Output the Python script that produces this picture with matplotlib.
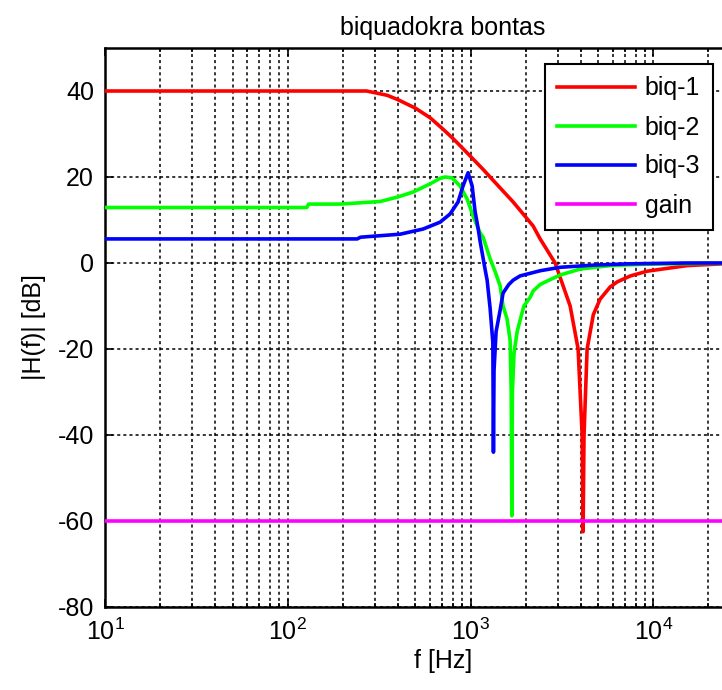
import matplotlib
matplotlib.use("Agg")
import matplotlib.pyplot as plt
from matplotlib.ticker import LogLocator, FixedLocator, NullFormatter

# ---- data ----
title = "biquadokra bontas"
xlabel = "f [Hz]"
ylabel = "|H(f)| [dB]"
labels = ["biq-1", "biq-2", "biq-3", "gain"]

f_biq1 = [10, 270, 300, 350, 400, 500, 600, 700, 800, 900, 1000, 1170, 1400, 1711,
          2202, 2405, 2904, 3509, 3880, 4083, 4131, 4180, 4345, 4700, 5120, 5800,
          6343, 7500, 9268, 15350, 23830, 50000]
db_biq1 = [40, 40, 39.6, 39.0, 38.0, 36.0, 33.8, 31.3, 29.0, 26.8, 24.8, 21.8, 18.2,
           14.2, 8.6, 5.6, 0, -10, -20, -40, -62.5, -40, -20, -12, -8.4, -5.6,
           -4.4, -3.0, -1.9, -0.6, -0.2, 0]

f_biq2 = [10, 127, 130, 193, 249, 320, 396, 485, 601, 682, 726, 793, 877, 958,
          1033, 1129, 1172, 1280, 1364, 1452, 1507, 1585, 1647, 1670, 1683, 1695,
          1730, 1799, 1868, 1960, 2119, 2202, 2405, 2627, 3092, 3981, 5808, 8805,
          18000, 50000]
db_biq2 = [12.9, 12.9, 13.7, 13.7, 14.0, 14.3, 15.3, 16.5, 18.4, 19.7, 20.0, 19.8,
           17.9, 14.9, 10.9, 7.0, 6.0, 1.0, -2.0, -5.3, -10.0, -13.0, -18.0, -30.0,
           -58.8, -30.0, -21.0, -16.0, -13.3, -10.0, -8.0, -6.5, -5.0, -4.2, -2.8,
           -1.4, -0.6, -0.3, -0.1, 0]

f_biq3 = [10, 240, 250, 412, 550, 682, 773, 855, 910, 970, 1021, 1059, 1101, 1129,
          1202, 1233, 1280, 1325, 1335, 1345, 1380, 1452, 1507, 1620, 1711, 1868,
          2405, 3092, 4691, 7194, 15000, 50000]
db_biq3 = [5.6, 5.6, 6.0, 6.7, 7.9, 9.5, 11.4, 14.2, 17.9, 21.0, 17.9, 12.0, 8.0,
           5.0, -1.5, -4.0, -10.5, -18.5, -44.0, -25.0, -16.0, -11.0, -7.0, -5.0,
           -4.0, -3.0, -1.8, -1.0, -0.5, -0.2, 0, 0]

f_gain = [10, 50000]
db_gain = [-60, -60]

series = [(f_biq1, db_biq1, "#ff0000"),
          (f_biq2, db_biq2, "#00ff00"),
          (f_biq3, db_biq3, "#0000ff"),
          (f_gain, db_gain, "#ff00ff")]

yticks = [-80, -60, -40, -20, 0, 20, 40]

# ---- style ----
plt.rcParams['font.family'] = ['Liberation Sans', 'DejaVu Sans']
plt.rcParams['mathtext.fontset'] = 'custom'
plt.rcParams['mathtext.rm'] = 'Liberation Sans'
plt.rcParams['mathtext.it'] = 'Liberation Sans:italic'
plt.rcParams['mathtext.default'] = 'regular'
plt.rcParams['axes.unicode_minus'] = False
FS = 18
LW = 2.6

fig = plt.figure(figsize=(7.22, 6.9), dpi=100)
ax = fig.add_axes([105 / 722, 83 / 690, (781 - 105) / 722, (607 - 48) / 690])

for (fx, dy, c), lab in zip(series, labels):
    ax.plot(fx, dy, color=c, lw=LW, label=lab, zorder=3, solid_joinstyle='round')

ax.set_xscale('log')
ax.set_xlim(10, 50000)
ax.set_ylim(-80, 50)
ax.yaxis.set_major_locator(FixedLocator(yticks))
ax.xaxis.set_major_locator(LogLocator(base=10, numticks=10))
ax.xaxis.set_minor_locator(LogLocator(base=10, subs=range(2, 10), numticks=20))
ax.xaxis.set_minor_formatter(NullFormatter())

grid_kw = dict(color='k', linestyle=(0, (2, 2)), lw=1.1)
ax.grid(True, which='both', axis='x', **grid_kw)
ax.grid(True, which='major', axis='y', **grid_kw)
ax.set_axisbelow(True)

for s in ax.spines.values():
    s.set_linewidth(1.8)
ax.tick_params(which='both', direction='in', top=True, right=True, width=1.2,
               labelsize=FS, pad=8)
ax.tick_params(which='major', length=6)
ax.tick_params(which='minor', length=3)

ax.set_title(title, fontsize=FS, pad=9)
ax.set_xlabel(xlabel, fontsize=FS, labelpad=3)
ax.set_ylabel(ylabel, fontsize=FS, labelpad=8)

leg = ax.legend(loc='upper right', bbox_to_anchor=(712.7 / 722, 1 - 64 / 690),
                bbox_transform=fig.transFigure, borderaxespad=0, fontsize=FS,
                handlelength=3.1, handletextpad=0.4, labelspacing=0.6,
                fancybox=False, framealpha=1, edgecolor='k', borderpad=0.5)
leg.get_frame().set_linewidth(1.5)
for ln in leg.get_lines():
    ln.set_linewidth(LW)

fig.savefig("out.png", dpi=100)
